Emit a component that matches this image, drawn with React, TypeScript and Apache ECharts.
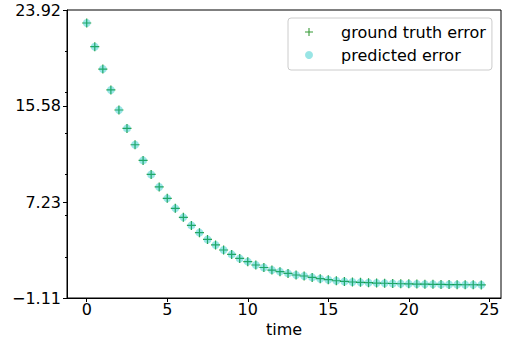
import React, { useEffect, useRef } from "react";
import * as echarts from "echarts";

const times = [
  0, 0.5, 1, 1.5, 2, 2.5, 3, 3.5, 4, 4.5, 5, 5.5, 6, 6.5, 7, 7.5, 8, 8.5, 9, 9.5,
  10, 10.5, 11, 11.5, 12, 12.5, 13, 13.5, 14, 14.5, 15, 15.5, 16, 16.5, 17, 17.5,
  18, 18.5, 19, 19.5, 20, 20.5, 21, 21.5, 22, 22.5, 23, 23.5, 24, 24.5,
];
const groundTruthError = [
  22.79, 20.73, 18.79, 16.97, 15.23, 13.63, 12.21, 10.85, 9.63, 8.54, 7.55, 6.68,
  5.9, 5.2, 4.57, 3.98, 3.5, 3.06, 2.68, 2.33, 2.05, 1.76, 1.54, 1.32, 1.18, 1.03,
  0.89, 0.8, 0.68, 0.57, 0.48, 0.39, 0.33, 0.28, 0.25, 0.22, 0.19, 0.17, 0.15,
  0.13, 0.12, 0.1, 0.09, 0.08, 0.07, 0.06, 0.05, 0.04, 0.04, 0.03,
];
const predictedError = [
  22.79, 20.73, 18.79, 16.97, 15.23, 13.63, 12.21, 10.85, 9.63, 8.54, 7.55, 6.68,
  5.9, 5.2, 4.57, 3.98, 3.5, 3.06, 2.68, 2.33, 2.05, 1.76, 1.54, 1.32, 1.18, 1.03,
  0.89, 0.8, 0.68, 0.57, 0.48, 0.39, 0.33, 0.28, 0.25, 0.22, 0.19, 0.17, 0.15,
  0.13, 0.12, 0.1, 0.09, 0.08, 0.07, 0.06, 0.05, 0.04, 0.04, 0.03,
];
const yTickValues = [-1.11, 7.23, 15.58, 23.92];
const yMinorTickValues = [2.47, 6.04, 9.62, 13.19, 16.77, 20.34];
const xTickValues = [0, 5, 10, 15, 20, 25];
const yLimits = [-1.11, 23.92];
const xLimits = [-1.225, 25.725];
const seriesNames = ["ground truth error", "predicted error"];

const FONT = "DejaVu Sans";
const PLUS = "path://M3.9,0H5.1V9H3.9Z M0,3.9H9V5.1H0Z";

export default function App() {
  const ref = useRef<HTMLDivElement>(null);
  useEffect(() => {
    if (!ref.current) return;
    const chart = echarts.init(ref.current, null, { renderer: "svg" });
    const gt = times.map((t, i) => [t, groundTruthError[i]]);
    const pr = times.map((t, i) => [t, predictedError[i]]);
    const fmtY = (v: number) =>
      v < 0 ? "\u2212" + Math.abs(v).toFixed(2) : v.toFixed(2);
    chart.setOption({
      animation: false,
      backgroundColor: "#ffffff",
      textStyle: { fontFamily: FONT },
      grid: {
        left: 67,
        top: 10,
        width: 434,
        height: 288,
        show: true,
        borderColor: "#000",
        borderWidth: 1,
        backgroundColor: "transparent",
        containLabel: false,
        outerBoundsMode: "none",
      },
      legend: {
        orient: "vertical",
        left: 288,
        top: 18,
        padding: [5, 6, 6, 17],
        itemGap: 5,
        itemWidth: 8,
        itemHeight: 8,
        backgroundColor: "rgba(255,255,255,0.8)",
        borderColor: "#cccccc",
        borderWidth: 1,
        borderRadius: 3,
        textStyle: {
          fontFamily: FONT,
          fontSize: 16,
          color: "#000",
          lineHeight: 18,
          padding: [0, 0, 0, 23],
        },
        data: [
          { name: seriesNames[0], icon: PLUS },
          { name: seriesNames[1], icon: "circle" },
        ],
      },
      xAxis: {
        type: "value",
        min: xLimits[0],
        max: xLimits[1],
        name: "time",
        nameLocation: "middle",
        nameGap: 17,
        nameTextStyle: { fontFamily: FONT, fontSize: 16, color: "#000" },
        axisLine: { show: true, onZero: false, lineStyle: { color: "#000", width: 1 } },
        axisTick: {
          show: true,
          length: 4,
          customValues: xTickValues,
          lineStyle: { color: "#000", width: 1 },
        },
        axisLabel: {
          customValues: xTickValues,
          margin: 3,
          fontFamily: FONT,
          fontSize: 16,
          color: "#000",
        },
        splitLine: { show: false },
      },
      yAxis: [
        {
          type: "value",
          min: yLimits[0],
          max: yLimits[1],
          axisLine: { show: true, onZero: false, lineStyle: { color: "#000", width: 1 } },
          axisTick: {
            show: true,
            length: 4,
            customValues: yTickValues,
            lineStyle: { color: "#000", width: 1 },
          },
          axisLabel: {
            customValues: yTickValues,
            formatter: fmtY,
            margin: 6,
            fontFamily: FONT,
            fontSize: 16,
            color: "#000",
          },
          splitLine: { show: false },
        },
        {
          type: "value",
          position: "left",
          min: yLimits[0],
          max: yLimits[1],
          axisLine: { show: false, onZero: false },
          axisTick: {
            show: true,
            length: 2,
            customValues: yMinorTickValues,
            lineStyle: { color: "#000", width: 1 },
          },
          axisLabel: { show: false },
          splitLine: { show: false },
        },
      ],
      series: [
        {
          name: seriesNames[0],
          type: "scatter",
          data: gt,
          symbol: PLUS,
          symbolSize: 9,
          itemStyle: { color: "#008000" },
          z: 2,
        },
        {
          name: seriesNames[1],
          type: "scatter",
          data: pr,
          symbol: "circle",
          symbolSize: 8,
          itemStyle: { color: "rgba(0,191,191,0.5)" },
          z: 3,
        },
      ],
    });
    return () => chart.dispose();
  }, []);
  return (
    <div
      ref={ref}
      style={{ position: "fixed", left: 0, top: 0, width: 505, height: 340 }}
    />
  );
}
